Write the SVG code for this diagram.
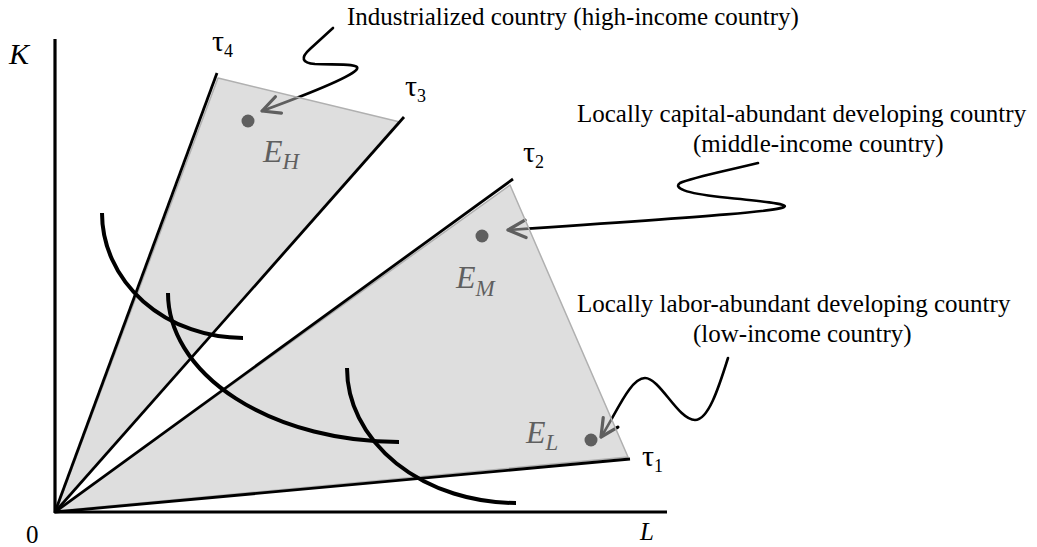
<svg xmlns="http://www.w3.org/2000/svg" width="1037" height="547" viewBox="0 0 1037 547">
<style>
.txt{font-family:"Liberation Serif","Times New Roman",serif;font-size:25px;fill:#000}
.math{font-family:"Liberation Serif","Times New Roman",serif;font-style:italic;fill:#000}
.tau{font-family:"Liberation Serif","Times New Roman",serif;font-size:30px;fill:#000}
.sub{font-size:18px}
.ptr{fill:none;stroke:#000;stroke-width:2.6;stroke-linecap:round;stroke-linejoin:round}
.region{fill:rgb(190,190,190);fill-opacity:0.5;stroke:#b0b0b0;stroke-width:1.5;stroke-linejoin:round}
.ray{stroke:#000;stroke-width:2.8;fill:none}
.iso{stroke:#000;stroke-width:4;fill:none}
.axis{stroke:#000;stroke-width:3.2;fill:none}
.dot{fill:#000}
</style>
<defs>
<marker id="chev" markerUnits="userSpaceOnUse" markerWidth="30" markerHeight="30" refX="0" refY="0" viewBox="-20 -12 24 24" orient="auto" overflow="visible">
<path d="M-14,-7 L0,0 L-14,7" fill="none" stroke="#000" stroke-width="2.6" stroke-linecap="round" stroke-linejoin="round"/>
</marker>
</defs>

<!-- connectors (pointer arrows), drawn under the shaded regions -->
<g id="connectors">
<path class="ptr" marker-end="url(#chev)" d="M333,28 L310,49 C300,58 302,63 315,64 C335,65 360,63 357,69 C354,74 330,86 262,111"/>
<path class="ptr" marker-end="url(#chev)" d="M758,163 C725,171 690,178 680,183 C673,188 685,193 720,197 C760,201 790,204 784,207 C777,211 730,215 508,230"/>
<path class="ptr" marker-end="url(#chev)" d="M728,358 C718,390 708,420 695,420 C678,420 660,378 645,378 C630,378 616,414 601,437"/>
</g>

<!-- equilibrium nodes -->
<g id="node-EH">
<circle class="dot" cx="248" cy="121" r="6.5"/>
<text class="math" x="263" y="162" font-size="32">E<tspan font-size="23" dy="7">H</tspan></text>
</g>
<g id="node-EM">
<circle class="dot" cx="482" cy="236" r="6.5"/>
<text class="math" x="456" y="288" font-size="32">E<tspan font-size="23" dy="8">M</tspan></text>
</g>
<g id="node-EL">
<circle class="dot" cx="591" cy="440" r="6.5"/>
<text class="math" x="526" y="443" font-size="32">E<tspan font-size="23" dy="7">L</tspan></text>
</g>

<!-- shaded cones -->
<g id="regions">
<polygon class="region" points="56,511 218,78 400,122"/>
<polygon class="region" points="56,511 510,185 628,457"/>
</g>

<!-- rays -->
<g id="rays">
<line class="ray" x1="55" y1="512" x2="217" y2="73"/>
<line class="ray" x1="55" y1="512" x2="404" y2="117"/>
<line class="ray" x1="55" y1="512" x2="513" y2="179"/>
<line class="ray" x1="55" y1="512" x2="630" y2="459"/>
</g>

<!-- isoquants -->
<g id="isoquants">
<path class="iso" d="M102,213 A141,125 0 0 0 243,338"/>
<path class="iso" d="M168,293 A231,149 0 0 0 399,442"/>
<path class="iso" d="M347,368 A169,135 0 0 0 516,503"/>
</g>

<!-- axes -->
<g id="axes">
<line class="axis" x1="55" y1="39" x2="55" y2="513"/>
<line class="axis" x1="54" y1="512" x2="667" y2="512"/>
<text class="math" x="9" y="64" font-size="30">K</text>
<text class="math" x="640" y="540" font-size="25">L</text>
<text class="txt" x="26" y="543" font-size="24">0</text>
</g>

<!-- ray labels -->
<g id="ray-labels">
<text class="tau" x="212" y="51">τ<tspan class="sub" dy="6">4</tspan></text>
<text class="tau" x="405" y="96">τ<tspan class="sub" dy="6">3</tspan></text>
<text class="tau" x="523" y="162">τ<tspan class="sub" dy="6">2</tspan></text>
<text class="tau" x="642" y="466">τ<tspan class="sub" dy="6">1</tspan></text>
</g>

<!-- annotations -->
<g id="annotations">
<text class="txt" x="347" y="25">Industrialized country (high-income country)</text>
<text class="txt" x="577" y="122">Locally capital-abundant developing country</text>
<text class="txt" x="693" y="152">(middle-income country)</text>
<text class="txt" x="577" y="312">Locally labor-abundant developing country</text>
<text class="txt" x="693" y="342">(low-income country)</text>
</g>
</svg>
